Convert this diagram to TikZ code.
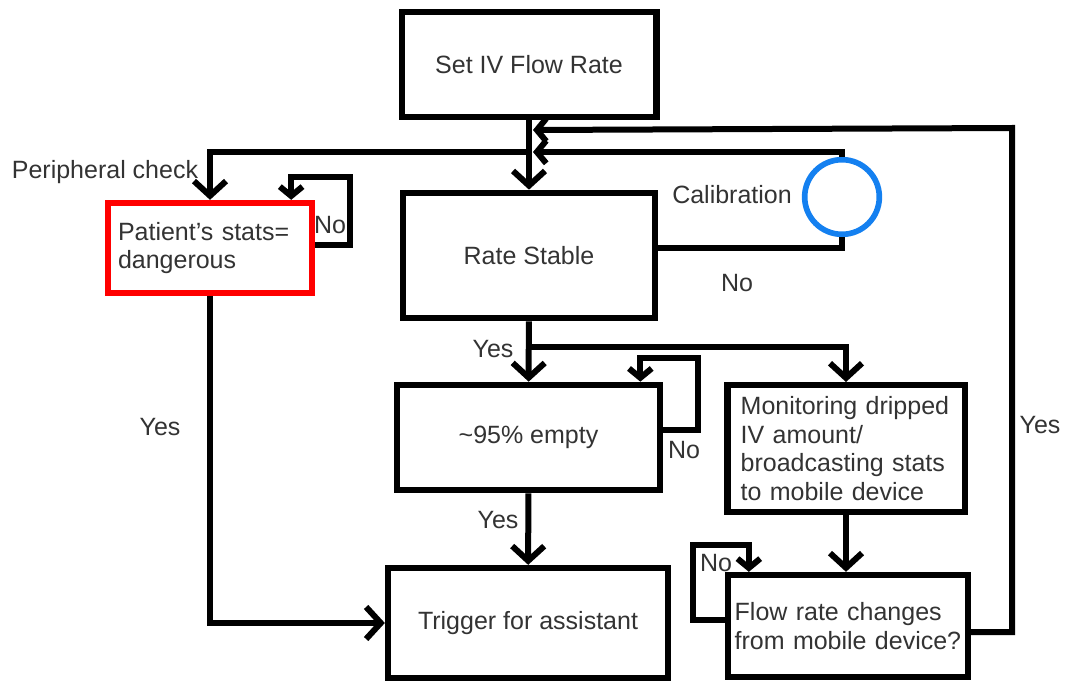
\documentclass[tikz,border=0pt]{standalone}
\usepackage{fontspec}
\setmainfont{Liberation Sans}
\usetikzlibrary{arrows.meta,positioning}
\definecolor{calibblue}{RGB}{20,128,240}

\begin{document}
\begin{tikzpicture}[x=0.75pt,y=-0.75pt,
		font=\fontsize{18.75}{21.5}\selectfont, text=black!80,
		box/.style={draw, line width=4.75pt, rectangle, inner sep=0pt},
		line/.style={draw, line width=4.5pt},
		arr/.style={draw, line width=4.5pt, -{Straight Barb[length=11pt,width=24pt]}},
		looparr/.style={draw, line width=4.5pt, -{Straight Barb[length=7pt,width=17pt]}}]

		\useasboundingbox (0,0) rectangle (1067,681);

		% Nodes
		\node[box, minimum width=191pt, minimum height=79pt] (setiv) at (529,64.5) {Set IV Flow Rate};
		\node[box, minimum width=189pt, minimum height=94pt] (rate) at (529,255.5) {Rate Stable};
		\node[box, draw=red, align=left, text width=138pt, inner xsep=7.5pt, minimum height=67.5pt] (patient) at (210,248) {Patient's stats=\\dangerous};
		\node[draw=calibblue, line width=4.25pt, circle, minimum size=56pt, inner sep=0pt] (calib) at (842,197) {};
		\node[box, minimum width=197pt, minimum height=79pt] (empty) at (528.5,437.5) {\textasciitilde95\% empty};
		\node[box, align=left, text width=158pt, inner xsep=10pt, minimum height=95pt] (monitor) at (846,448.5) {Monitoring dripped\\IV amount/\\broadcasting stats\\to mobile device};
		\node[box, align=left, text width=170pt, inner xsep=5pt, minimum height=76.5pt] (flow) at (848,626) {Flow rate changes\\from mobile device?};
		\node[box, minimum width=210pt, minimum height=82.5pt] (trigger) at (528,623) {Trigger for assistant};

		% Labels
		\node (lpc) at (105,172) {Peripheral check};
		\node (lcal) at (732,195) {Calibration};
		\node (lcalno) at (737,283) {No};
		\node (lpno) at (330,225) {No};
		\node (lpyes) at (160,427) {Yes};
		\node (lryes) at (493,349) {Yes};
		\node (leno) at (684,450) {No};
		\node (leyes) at (498,520) {Yes};
		\node (lfyes) at (1040,425) {Yes};
		\node (lfno) at (716,563) {No};

		% Bends
		\coordinate (pc) at (529,152);
		\coordinate (tin) at (533,130);
		\coordinate (cin) at (533,152);
		\coordinate (ysplit) at (529,347);
		\coordinate (pn) at (350,177);
		\coordinate (en) at (698,358);
		\coordinate (fn) at (693,545);
		\coordinate (yr) at (1012,128);

		% Edges
		\draw[arr] (setiv) -- (rate);
		\draw[arr] (pc) -| (patient.north);
		\draw[line] ([yshift=6pt]rate.east) -| (calib.south);
		\draw[looparr] (calib.north) |- (cin);
		\draw[looparr] ([yshift=-4.5pt]flow.east) -| (yr) -- (tin);
		\draw[looparr] ([yshift=2pt]patient.east) -| (pn) -| ([xshift=-18pt]patient.north east);
		\draw[arr] (patient.south) |- (trigger.west);
		\draw[arr] (rate) -- (empty);
		\draw[arr] (ysplit) -| (monitor.north);
		\draw[looparr] ([yshift=5.6pt]empty.east) -| (en) -| ([xshift=-17pt]empty.north east);
		\draw[arr] (empty) -- (trigger);
		\draw[arr] (monitor.south) -- (monitor.south |- flow.north);
		\draw[looparr] ([yshift=4.5pt]flow.west) -| (fn) -| ([xshift=18pt]flow.north west);
	\end{tikzpicture}
\end{document}
